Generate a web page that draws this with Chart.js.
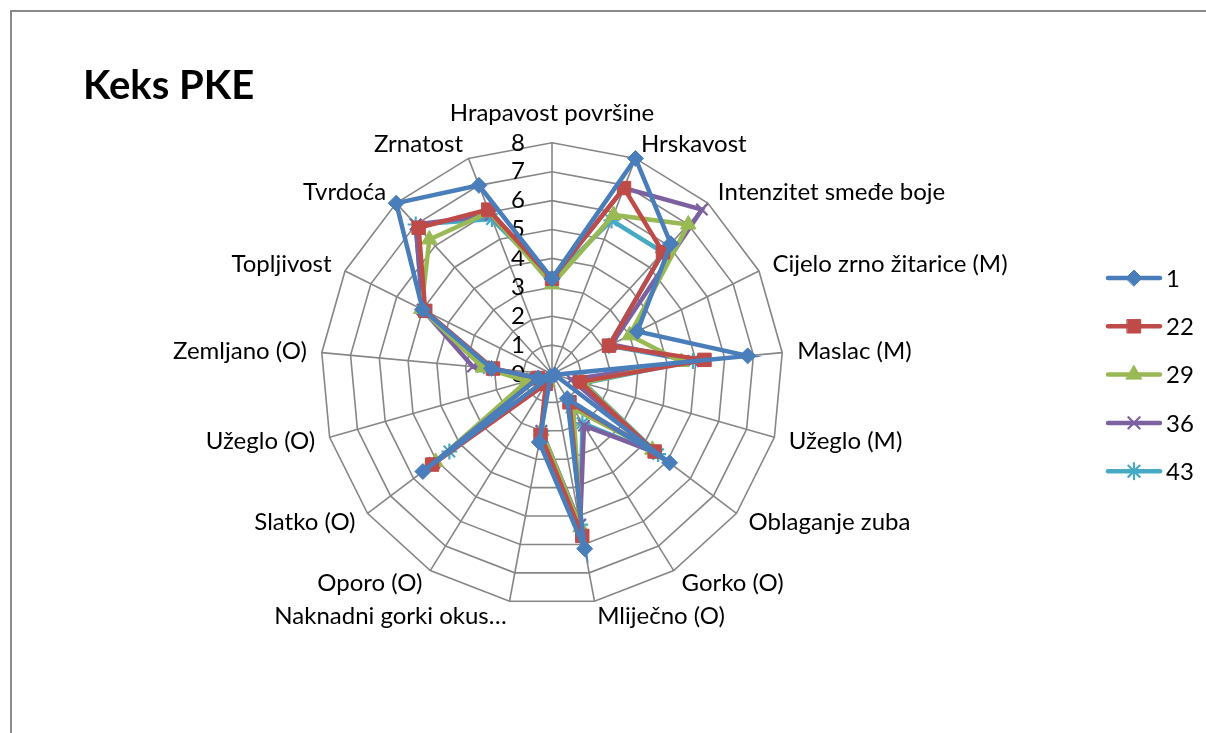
<!DOCTYPE html>
<html>
<head>
<meta charset="utf-8">
<script src="https://cdn.jsdelivr.net/npm/chart.js@4/dist/chart.umd.min.js"></script>
<style>
  html, body { margin: 0; padding: 0; background: #fff; overflow: hidden; }
  #okvir { position: absolute; left: 10px; top: 10px; width: 1400px; height: 900px;
           border-top: 2px solid #8a8a8a; border-left: 2px solid #8a8a8a; }
  #platno { position: absolute; left: 0; top: 0; width: 1206px; height: 733px; }
</style>
</head>
<body>
<div id="okvir"></div>
<div id="platno"><canvas id="graf"></canvas></div>
<script>
// Kategorije (svojstva keksa) i ocjene po uzorku
const kategorije = [
  "Hrapavost površine", "Hrskavost", "Intenzitet smeđe boje", "Cijelo zrno žitarice (M)",
  "Maslac (M)", "Užeglo (M)", "Oblaganje zuba", "Gorko (O)", "Mliječno (O)",
  "Naknadni gorki okus…", "Oporo (O)", "Slatko (O)", "Užeglo (O)", "Zemljano (O)",
  "Topljivost", "Tvrdoća", "Zrnatost"
];
const uzorci = ["1", "22", "29", "36", "43"];

const uzorak1  = [3.3, 8.0, 6.1, 3.3, 6.8, 0.1, 5.1, 1.0, 6.15, 2.4, 0.1, 5.6, 0.5, 2.1, 5.0, 8.0, 7.0];
const uzorak22 = [3.3, 6.9, 5.7, 2.2, 5.3, 1.0, 4.45, 1.15, 5.7, 2.15, 0.4, 5.2, 0.5, 2.05, 4.9, 6.85, 6.1];
const uzorak29 = [3.1, 5.9, 7.0, 3.0, 4.5, 1.1, 4.35, 1.4, 5.4, 2.0, 0.3, 5.05, 0.9, 2.4, 5.05, 6.3, 6.0];
const uzorak36 = [3.3, 6.9, 7.7, 2.3, 4.9, 0.7, 4.5, 2.1, 5.3, 2.0, 0.3, 5.1, 0.6, 2.75, 5.0, 7.0, 5.9];
const uzorak43 = [3.3, 5.7, 5.7, 2.2, 4.9, 1.15, 4.6, 2.0, 5.3, 2.0, 0.35, 4.45, 0.6, 2.2, 5.0, 7.0, 5.75];

const skalaMin = 0;
const skalaMax = 8;

const boje = ["#4A7EBB", "#BE4B48", "#98B954", "#7D60A0", "#46AAC5"];
const oblici = ["rectRot", "rect", "triangle", "crossRot", "star"];
const velicine = [8, 9.5, 9, 8, 8];
const serije = [uzorak1, uzorak22, uzorak29, uzorak36, uzorak43];

const font = "Lato, 'Noto Sans', sans-serif";
const velicinaSlova = 24;

// Excel centrira bočne natpise okomito uz vrh, samo gornji stoji iznad
const centrirajNatpise = {
  id: "centrirajNatpise",
  beforeDraw(chart) {
    const r = chart.scales.r;
    const items = r._pointLabelItems || [];
    const h = velicinaSlova * 1.2;
    items.forEach((item, i) => {
      const kut = Math.round(i * 360 / kategorije.length);
      if (kut === 0 || kut === 180 || kut === 90 || kut === 270) return;
      const pomak = (kut < 90 || kut > 270) ? h / 2 : -h / 2;
      item.y += pomak;
      item.top += pomak;
      item.bottom += pomak;
    });
  }
};

// brojevi na skali lijevo od okomite osi (kao u Excelu), i "0" u sredini
const oznakeSkale = {
  id: "oznakeSkale",
  beforeDatasetsDraw(chart) {
    const r = chart.scales.r;
    const ctx = chart.ctx;
    ctx.save();
    ctx.font = velicinaSlova + "px " + font;
    ctx.fillStyle = "#000";
    ctx.textAlign = "right";
    ctx.textBaseline = "middle";
    r.ticks.forEach(t => {
      const d = r.getDistanceFromCenterForValue(t.value);
      ctx.fillText(String(t.value), r.xCenter - 27, r.yCenter - d);
    });
    ctx.restore();
  }
};

// legenda desno: linija s markerom u sredini
const legenda = {
  id: "legenda",
  afterDraw(chart) {
    const ctx = chart.ctx;
    chart.data.datasets.forEach((ds, i) => {
      const y = 278 + i * 48.3;
      ctx.save();
      ctx.strokeStyle = ds.borderColor;
      ctx.fillStyle = ds.backgroundColor;
      ctx.lineWidth = 4.5;
      ctx.lineCap = "round";
      ctx.beginPath();
      ctx.moveTo(1108, y);
      ctx.lineTo(1160, y);
      ctx.stroke();
      ctx.lineWidth = ds.pointBorderWidth;
      Chart.helpers.drawPoint(ctx, {
        pointStyle: ds.pointStyle,
        radius: ds.pointRadius,
        borderWidth: ds.pointBorderWidth,
        rotation: 0
      }, 1134, y);
      ctx.fillStyle = "#000";
      ctx.font = velicinaSlova + "px " + font;
      ctx.textAlign = "left";
      ctx.textBaseline = "middle";
      ctx.fillText(ds.label, 1166, y + 1);
      ctx.restore();
    });
  }
};

const datasets = serije.map((vrijednosti, i) => ({
  label: uzorci[i],
  data: vrijednosti,
  borderColor: boje[i],
  backgroundColor: boje[i],
  pointBackgroundColor: boje[i],
  pointBorderColor: boje[i],
  borderWidth: 4.5,
  pointStyle: oblici[i],
  pointRadius: velicine[i],
  pointBorderWidth: i >= 3 ? 2.2 : 1,
  fill: false
}));

new Chart(document.getElementById("graf"), {
  type: "radar",
  data: { labels: kategorije, datasets: datasets },
  options: {
    responsive: true,
    maintainAspectRatio: false,
    devicePixelRatio: 1,
    animation: false,
    layout: { padding: { left: 83, right: 166, top: 10, bottom: 85 } },
    elements: { line: { tension: 0 } },
    plugins: {
      legend: { display: false },
      tooltip: { enabled: false },
      title: {
        display: true,
        text: "Keks PKE",
        align: "start",
        color: "#000",
        font: { family: font, size: 40, weight: "bold", lineHeight: 1 },
        padding: { top: 56, bottom: -9 }
      }
    },
    scales: {
      r: {
        min: skalaMin,
        max: skalaMax,
        ticks: { stepSize: 1, display: false },
        grid: { color: "#868686", lineWidth: 1.6 },
        angleLines: { color: "#868686", lineWidth: 1.6 },
        pointLabels: {
          color: "#000",
          padding: 15,
          font: { family: font, size: velicinaSlova }
        }
      }
    }
  },
  plugins: [centrirajNatpise, oznakeSkale, legenda]
});
</script>
</body>
</html>
